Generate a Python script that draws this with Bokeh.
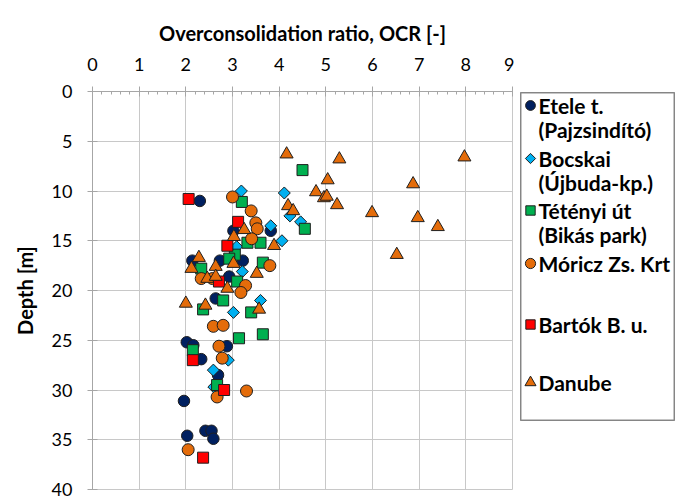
import numpy as np
from bokeh.plotting import figure
from bokeh.models import Range1d, FixedTicker
from bokeh.layouts import row
from bokeh.core.properties import value
from bokeh.embed import file_html
from bokeh.resources import INLINE

# ---- data (OCR [-], depth [m]) ----
etele_ocr = [2.30, 3.02, 3.82, 2.14, 2.73, 3.22, 2.93, 2.64, 2.02, 2.16, 2.88, 2.33, 2.69, 1.96, 2.42, 2.55, 2.59, 2.03]
etele_depth = [11.0, 14.0, 14.0, 17.0, 17.0, 17.0, 18.6, 20.8, 25.2, 25.5, 25.6, 26.9, 28.5, 31.1, 34.1, 34.1, 34.9, 34.6]

bocskai_ocr = [3.19, 4.11, 4.23, 4.46, 3.82, 4.06, 3.09, 3.21, 3.60, 3.02, 2.91, 2.59, 2.60]
bocskai_depth = [10.0, 10.2, 12.5, 13.1, 13.5, 15.0, 15.6, 18.1, 21.0, 22.2, 27.0, 28.0, 29.7]

teteny_ocr = [4.50, 3.20, 4.55, 3.32, 3.60, 3.05, 2.93, 2.33, 3.65, 3.10, 2.80, 2.37, 3.40, 3.14, 3.65, 2.15, 2.67]
teteny_depth = [7.9, 11.1, 13.8, 15.2, 15.2, 16.4, 16.8, 17.8, 17.2, 19.1, 21.0, 21.9, 22.2, 24.8, 24.4, 26.0, 29.5]

moricz_ocr = [3.00, 3.40, 3.50, 3.53, 3.41, 3.80, 2.33, 2.57, 3.28, 3.18, 2.59, 2.80, 2.71, 2.78, 2.67, 3.30, 2.05]
moricz_depth = [10.6, 12.0, 13.2, 13.8, 14.8, 17.5, 18.8, 18.8, 19.5, 20.2, 23.6, 23.5, 25.6, 26.8, 30.7, 30.1, 36.0]

bartok_ocr = [2.06, 3.12, 2.89, 2.71, 2.15, 2.82, 2.37]
bartok_depth = [10.8, 13.1, 15.5, 19.1, 27.0, 30.0, 36.8]

danube_ocr = [4.16, 5.29, 7.97, 5.04, 6.87, 4.79, 4.96, 5.02, 5.24, 5.99, 6.97, 7.40, 6.52, 4.19, 4.30,
              3.89, 3.25, 3.03, 2.28, 2.12, 2.64, 3.02, 2.46, 2.64, 3.52, 2.89, 2.00, 2.42, 3.57]
danube_depth = [6.3, 6.8, 6.6, 8.9, 9.3, 10.1, 10.7, 10.55, 11.4, 12.2, 12.7, 13.6, 16.4, 11.5, 12.0,
                15.5, 13.9, 14.6, 16.7, 17.8, 17.6, 17.3, 18.8, 18.6, 18.3, 19.8, 21.3, 21.5, 21.9]

series_line1 = ["Etele t.", "Bocskai", "Tétényi út", "Móricz Zs. Krt", "Bartók B. u.", "Danube"]
series_line2 = ["(Pajzsindító)", "(Újbuda-kp.)", "(Bikás park)", "", "", ""]

x_ticks = list(range(0, 10))
y_ticks = list(range(0, 41, 5))

FONT = "Lato"
OUT = "#1f1f1f"
styles = [
    dict(marker="circle", size=11.5, fill_color="#002060", angle=0.0),
    dict(marker="square", size=8.5, fill_color="#00b0f0", angle=np.pi / 4),
    dict(marker="square", size=11, fill_color="#00b050", angle=0.0),
    dict(marker="circle", size=12, fill_color="#e46c0a", angle=0.0),
    dict(marker="square", size=11, fill_color="#ff0000", angle=0.0),
    dict(marker="triangle", size=13, fill_color="#e46c0a", angle=0.0),
]

PW, H = 514, 500
TOP, BOTTOM = 91, 489          # frame edges in page pixels
p = figure(width=PW, height=H, x_range=Range1d(0, 9), y_range=Range1d(40, 0),
           x_axis_location="above", output_backend="svg", toolbar_location=None,
           min_border_left=92, min_border_top=TOP, min_border_right=2, min_border_bottom=H - BOTTOM)

p.xaxis.ticker = FixedTicker(ticks=x_ticks, minor_ticks=list(np.arange(0, 9.01, 0.2)))
p.yaxis.ticker = FixedTicker(ticks=y_ticks, minor_ticks=[])
p.xgrid.ticker = FixedTicker(ticks=x_ticks)
p.ygrid.ticker = FixedTicker(ticks=y_ticks)
p.grid.grid_line_color = "#c8c8c8"
p.grid.grid_line_width = 1
p.outline_line_color = "#c8c8c8"

p.xaxis.axis_label = "Overconsolidation ratio, OCR [-]"
p.yaxis.axis_label = "Depth [m]"
for ax in (p.xaxis, p.yaxis):
    ax.axis_label_text_font = FONT
    ax.axis_label_text_font_style = "bold"
    ax.axis_label_text_font_size = "20px"
    ax.axis_label_text_color = "#000000"
    ax.major_label_text_font = FONT
    ax.major_label_text_font_size = "18px"
    ax.major_label_text_color = "#000000"
    ax.axis_line_color = "#a6a6a6"
    ax.major_tick_line_color = "#a6a6a6"
    ax.minor_tick_line_color = "#a6a6a6"
    ax.major_tick_in = 5
    ax.major_tick_out = 5
p.xaxis.minor_tick_in = 3
p.xaxis.minor_tick_out = 0
p.xaxis.major_label_standoff = 16
p.xaxis.axis_label_standoff = 10
p.yaxis.major_label_standoff = 15
p.yaxis.axis_label_standoff = 12

all_x = [etele_ocr, bocskai_ocr, teteny_ocr, moricz_ocr, bartok_ocr, danube_ocr]
all_y = [etele_depth, bocskai_depth, teteny_depth, moricz_depth, bartok_depth, danube_depth]
for xs, ys, st in zip(all_x, all_y, styles):
    p.scatter(xs, ys, marker=st["marker"], size=st["size"], angle=st["angle"],
              fill_color=st["fill_color"], line_color=OUT, line_width=1)

# ---- legend panel (frame aligned with the plot frame; page-pixel coordinates) ----
LW = 677 - PW
leg = figure(width=LW, height=H, x_range=Range1d(0, LW), y_range=Range1d(BOTTOM, TOP),
             output_backend="svg", toolbar_location=None, min_border=0,
             x_axis_location=None, y_axis_location=None)
leg.grid.visible = False
leg.outline_line_color = None

bl, br, bt, bb = 6, 160, 92, 420
leg.quad(left=bl, right=br, top=bt, bottom=bb, fill_color="white", line_color="#7f7f7f", line_width=1)
# 1-px filled strips along the box edges (drawn as filled areas)
leg.quad(left=[bl, br - 1, bl, bl], right=[bl + 1, br, br, br],
         top=[bt, bt, bt, bb - 1], bottom=[bb, bb, bt + 1, bb],
         fill_color="#8c8c8c", line_color=None)

row_y = [105, 158, 210, 263, 324, 382]
line_gap = 24
for i, st in enumerate(styles):
    leg.scatter([16], [row_y[i]], marker=st["marker"], size=st["size"] * 0.85, angle=st["angle"],
                fill_color=st["fill_color"], line_color=OUT, line_width=1)
    leg.text([24], [row_y[i]], text=[series_line1[i]], text_font=value(FONT), text_font_style="bold",
             text_font_size="21px", text_baseline="middle", text_align="left", text_color="#000000")
    if series_line2[i]:
        leg.text([24], [row_y[i] + line_gap], text=[series_line2[i]], text_font=value(FONT),
                 text_font_style="bold", text_font_size="21px", text_baseline="middle",
                 text_align="left", text_color="#000000")

layout = row(p, leg, spacing=0)
open("out.html", "w").write(file_html(layout, INLINE))
